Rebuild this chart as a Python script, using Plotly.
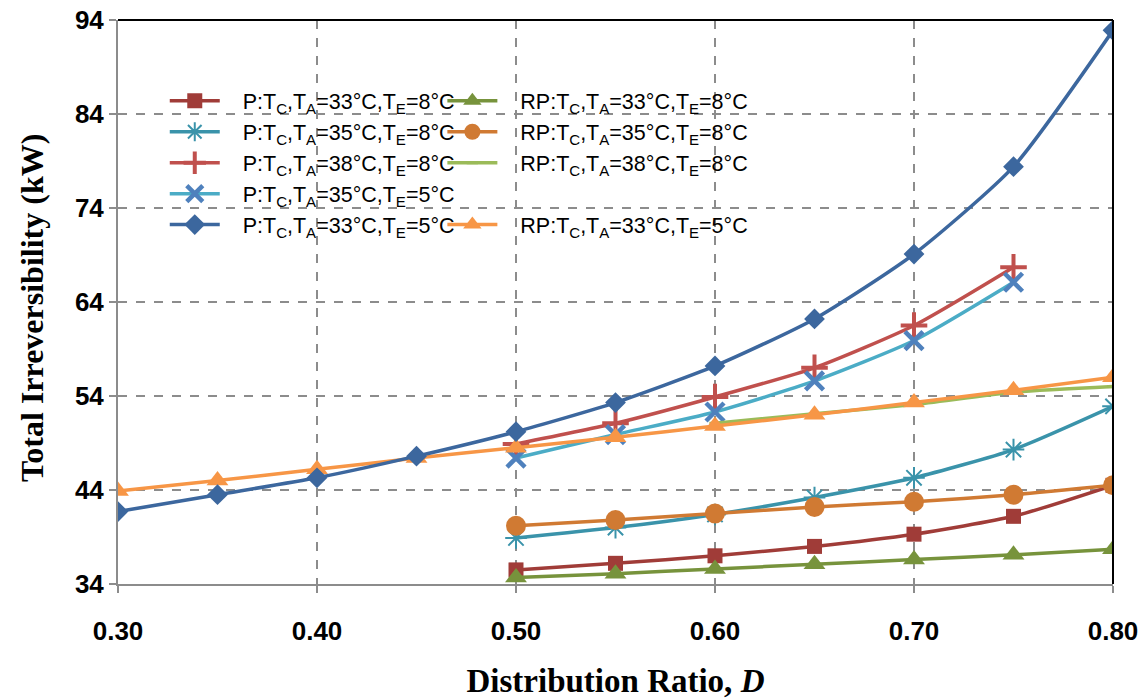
import plotly.graph_objects as go

# Distribution ratio values
d_full = [0.30, 0.35, 0.40, 0.45, 0.50, 0.55, 0.60, 0.65, 0.70, 0.75, 0.80]
d_mid = [0.50, 0.55, 0.60, 0.65, 0.70, 0.75, 0.80]
d_mid75 = [0.50, 0.55, 0.60, 0.65, 0.70, 0.75]
d_rp38 = [0.60, 0.65, 0.70, 0.75, 0.80]

# Total irreversibility (kW), parallel (P) configurations
p_33_8 = [35.5, 36.2, 37.0, 38.0, 39.3, 41.2, 44.5]
p_35_8 = [38.9, 40.0, 41.4, 43.2, 45.3, 48.3, 52.9]
p_38_8 = [48.9, 51.1, 53.9, 57.0, 61.5, 67.7]
p_35_5 = [47.4, 49.9, 52.3, 55.6, 59.9, 66.1]
p_33_5 = [41.7, 43.5, 45.3, 47.6, 50.2, 53.3, 57.2, 62.2, 69.1, 78.4, 92.9]

# Total irreversibility (kW), reverse-parallel (RP) configurations
rp_33_8 = [34.7, 35.1, 35.6, 36.1, 36.6, 37.1, 37.7]
rp_35_8 = [40.2, 40.8, 41.5, 42.2, 42.75, 43.5, 44.5]
rp_38_8 = [51.1, 52.1, 53.1, 54.4, 55.0]
rp_33_5 = [43.9, 45.0, 46.2, 47.4, 48.5, 49.6, 50.8, 52.0, 53.3, 54.6, 56.0]

y_ticks = [34, 44, 54, 64, 74, 84, 94]
x_ticks = [0.30, 0.40, 0.50, 0.60, 0.70, 0.80]

GAP = "\u00a0\u00a0\u00a0"


def label(prefix, ta, te):
    return f"{GAP}{prefix}:T<sub>C</sub>,T<sub>A</sub>={ta}°C,T<sub>E</sub>={te}°C"


def series(x, y, name, line_color, symbol, msize, marker_color=None,
           legend="legend", rank=1, mline=0, width=3.5):
    mc = marker_color or line_color
    return go.Scatter(
        x=x, y=y, name=name, mode="lines+markers",
        line=dict(color=line_color, width=width, shape="spline", smoothing=0.6),
        marker=dict(symbol=symbol, size=msize, color=mc,
                    line=dict(color=mc, width=mline)),
        legend=legend, legendrank=rank,
    )


fig = go.Figure()

fig.add_trace(series(d_mid, p_33_8, label("P", 33, 8), "#A03C38", "square", 15,
                     rank=1))
fig.add_trace(series(d_mid, p_35_8, label("P", 35, 8), "#3A93AA", "asterisk-open", 18,
                     rank=2, mline=2))
fig.add_trace(series(d_mid75, p_38_8, label("P", 38, 8), "#C0504D", "cross-thin-open", 19,
                     rank=3, mline=4))
fig.add_trace(series(d_mid75, p_35_5, label("P", 35, 5), "#4BACC6", "x-thin-open", 18,
                     marker_color="#4F81BD", rank=4, mline=4.5))
fig.add_trace(series(d_mid, rp_33_8, label("RP", 33, 8), "#77933C", "triangle-up", 19,
                     legend="legend2", rank=1))
fig.add_trace(series(d_mid, rp_35_8, label("RP", 35, 8), "#D07A33", "circle", 20,
                     legend="legend2", rank=2))
fig.add_trace(series(d_rp38, rp_38_8, label("RP", 38, 8), "#9BBB59", "line-ew-open", 8,
                     legend="legend2", rank=3, mline=3))
# empty legend row keeps the RP column aligned with the P column
fig.add_trace(go.Scatter(x=[None], y=[None], name=" ", mode="lines",
                         line=dict(color="rgba(0,0,0,0)", width=1),
                         legend="legend2", legendrank=4, hoverinfo="skip"))
fig.add_trace(series(d_full, rp_33_5, label("RP", 33, 5), "#F79646", "triangle-up", 19,
                     legend="legend2", rank=5))
fig.add_trace(series(d_full, p_33_5, label("P", 33, 5), "#3C679E", "diamond", 16,
                     rank=5))

axis_font = dict(family="Liberation Sans, Arial", size=26, color="#000000", weight="bold")
title_font = dict(family="Liberation Serif, Times New Roman", size=33, color="#000000",
                  weight="bold")
ytitle_font = dict(family="Liberation Serif, Times New Roman", size=32, color="#000000",
                   weight="bold")
legend_font = dict(family="Liberation Sans, Arial", size=21.5, color="#000000")

fig.update_layout(
    width=1142, height=700,
    margin=dict(l=118, r=29, t=20, b=116),
    paper_bgcolor="#FFFFFF", plot_bgcolor="#FFFFFF",
    showlegend=True,
    legend=dict(x=0.047, y=0.893, xanchor="left", yanchor="top",
                font=legend_font, bgcolor="rgba(255,255,255,0)",
                itemwidth=50, tracegroupgap=0, traceorder="normal"),
    legend2=dict(x=0.326, y=0.893, xanchor="left", yanchor="top",
                 font=legend_font, bgcolor="rgba(255,255,255,0)",
                 itemwidth=50, tracegroupgap=0, traceorder="normal"),
    xaxis=dict(
        range=[0.30, 0.80], tickvals=x_ticks, automargin=False,
        ticktext=[f"{v:.2f}" for v in x_ticks],
        showgrid=True, gridcolor="#8C8C8C", griddash="dash", gridwidth=2,
        showline=True, linecolor="#8C8C8C", linewidth=2,
        ticks="outside", ticklen=7, tickwidth=2, tickcolor="#8C8C8C",
        ticklabelstandoff=16,
        tickfont=axis_font, zeroline=False,
        title=dict(text="Distribution Ratio, <i>D</i>", font=title_font, standoff=24),
    ),
    yaxis=dict(
        range=[34, 94], tickvals=y_ticks, automargin=False,
        showgrid=True, gridcolor="#8C8C8C", griddash="dash", gridwidth=2,
        showline=True, linecolor="#8C8C8C", linewidth=2,
        ticks="outside", ticklen=7, tickwidth=2, tickcolor="#8C8C8C",
        tickfont=axis_font, zeroline=False,
    ),
    annotations=[
        dict(text="Total Irreversibility (kW)", font=ytitle_font, textangle=-90,
             xref="paper", yref="paper", x=-0.087, y=0.49,
             xanchor="center", yanchor="middle", showarrow=False),
    ],
    shapes=[
        dict(type="line", xref="x domain", yref="y domain", x0=0, x1=1, y0=1, y1=1,
             line=dict(color="#000000", width=2)),
        dict(type="line", xref="x domain", yref="y domain", x0=1, x1=1, y0=0, y1=1,
             line=dict(color="#000000", width=2)),
    ],
)

fig.write_html("out.html")
